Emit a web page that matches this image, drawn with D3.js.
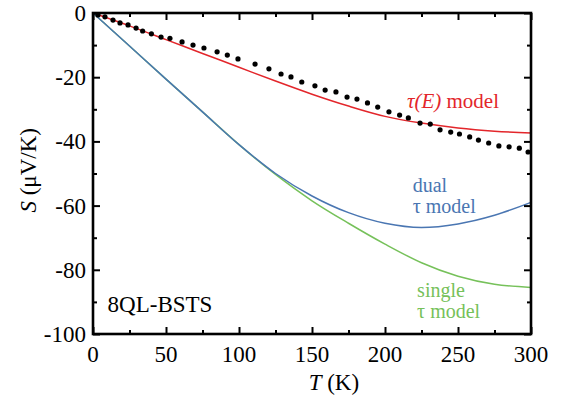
<!DOCTYPE html>
<html>
<head>
<meta charset="utf-8">
<script src="https://cdn.jsdelivr.net/npm/d3@7"></script>
</head>
<body style="margin:0">
<svg id="chart" width="564" height="396"></svg>
<script>
// measured points (black dots)
let measT = [3.4, 8.2, 13.7, 18.5, 24, 29.5, 34, 40, 46.6, 52.7, 61, 68.5, 76, 85, 92, 99.3,
    111, 120.5, 128.8, 135.6, 143, 152, 159, 166.4, 174, 180.8, 188,
    195, 202.7, 210, 216, 224, 231, 237.7, 245, 251, 258, 264, 271, 278, 285, 292, 298];
let measS = [-0.6, -1.2, -2.2, -3.1, -3.7, -4.7, -5.6, -6.5, -7.5, -7.9, -9.0, -10, -10.9, -12.1, -13.1, -14.3,
    -15.9, -17.4, -19, -19.9, -21.5, -22.7, -24, -24.6, -26.2, -26.8, -28,
    -29.3, -30.8, -31.8, -32.7, -34.3, -34.6, -36.4, -37.1, -37.7, -38.6, -39.6, -40.5, -41.4, -41.7, -42.1, -43.3];

// model curves
let modelT = [0, 25, 50, 75, 100, 125, 150, 175, 200, 225, 250, 275, 300];
let tauE = [0, -4, -8.3, -12.6, -16.9, -21.2, -25.3, -29, -32.2, -34.3, -35.8, -36.8, -37.4];
let dualTau = [0, -10.3, -20.6, -30.8, -41, -50, -57, -62.2, -65.5, -66.8, -65.7, -63, -59];
let singleTau = [0, -10.3, -20.6, -30.8, -41, -50.3, -58.5, -65.5, -72, -77.8, -82, -84.5, -85.5];

let xTicks = [0, 50, 100, 150, 200, 250, 300];
let yTicks = [0, -20, -40, -60, -80, -100];

let margin = { top: 13, right: 33, bottom: 62, left: 93 },
    width = 564 - margin.left - margin.right,
    height = 396 - margin.top - margin.bottom;

let svg = d3.select("#chart");
let g = svg.append("g").attr("transform", "translate(" + margin.left + "," + margin.top + ")");

// scales in page pixels so texts can sit straight on the svg
let x = d3.scaleLinear().domain([0, 300]).range([margin.left, margin.left + width]);
let y = d3.scaleLinear().domain([-100, 0]).range([margin.top + height, margin.top]);
let xIn = d3.scaleLinear().domain([0, 300]).range([0, width]);
let yIn = d3.scaleLinear().domain([-100, 0]).range([height, 0]);

let red = "#e3262b", blue = "#4a76b2", green = "#76c15a";

// curves
let series = [
    { vals: tauE, color: red },
    { vals: singleTau, color: green },
    { vals: dualTau, color: blue }
];
let line = d3.line().x((d, i) => xIn(modelT[i])).y(d => yIn(d)).curve(d3.curveMonotoneX);
series.forEach(s => {
    g.append("path")
        .attr("d", line(s.vals))
        .attr("fill", "none")
        .attr("stroke", s.color)
        .attr("stroke-width", 1.5);
});

// dots
g.selectAll("circle.meas")
    .data(measT)
    .enter()
    .append("circle")
    .attr("class", "meas")
    .attr("cx", d => xIn(d))
    .attr("cy", (d, i) => yIn(measS[i]))
    .attr("r", 2.6)
    .attr("fill", "#000");

// axes with inward ticks
function tickAxis(axis, scale, major, minor, tr) {
    let a1 = g.append("g").attr("transform", tr).call(axis(scale).tickValues(major).tickSize(-7).tickFormat(""));
    let a2 = g.append("g").attr("transform", tr).call(axis(scale).tickValues(minor).tickSize(-4).tickFormat(""));
    [a1, a2].forEach(a => {
        a.select(".domain").remove();
        a.selectAll("line").attr("stroke", "#000").attr("stroke-width", 2);
    });
}
let xMinor = [25, 75, 125, 175, 225, 275];
let yMinor = [-10, -30, -50, -70, -90];
tickAxis(d3.axisBottom, xIn, xTicks, xMinor, "translate(0," + height + ")");
tickAxis(d3.axisTop, xIn, xTicks, xMinor, "translate(0,0)");
tickAxis(d3.axisLeft, yIn, yTicks, yMinor, "translate(0,0)");
tickAxis(d3.axisRight, yIn, yTicks, yMinor, "translate(" + width + ",0)");

g.append("rect")
    .attr("width", width).attr("height", height)
    .attr("fill", "none").attr("stroke", "#000").attr("stroke-width", 2.6);

// texts, appended on the svg root
function txt(size) {
    return svg.append("text")
        .style("font-family", "'Times New Roman'")
        .attr("font-size", size);
}

// tick labels
svg.selectAll("text.xl").data(xTicks).enter().append("text")
    .attr("class", "xl")
    .attr("x", d => x(d)).attr("y", margin.top + height + 28)
    .attr("font-size", 23).attr("text-anchor", "middle")
    .style("font-family", d => "'Times New Roman'")
    .text(d => d);
svg.selectAll("text.yl").data(yTicks).enter().append("text")
    .attr("class", "yl")
    .attr("x", margin.left - 7).attr("y", d => y(d) + 8)
    .attr("font-size", 23).attr("text-anchor", "end")
    .style("font-family", d => "'Times New Roman'")
    .text(d => d);

// axis titles
let xt = txt(23).attr("x", x(165)).attr("y", margin.top + height + 56).attr("text-anchor", "middle");
xt.append("tspan").style("font-style", "italic").text("T");
xt.append("tspan").text(" (K)");

let yt = txt(23)
    .attr("transform", "translate(" + (margin.left - 57) + "," + y(-49) + ") rotate(-90)")
    .attr("text-anchor", "middle");
yt.append("tspan").style("font-style", "italic").text("S");
yt.append("tspan").text(" (μV/K)");

// annotations
function label(tx, sy, color, size) {
    return txt(size).attr("x", x(tx)).attr("y", y(sy)).attr("fill", color);
}
let t1 = label(215, -29.5, red, 21);
t1.append("tspan").style("font-style", "italic").text("τ(E)");
t1.append("tspan").text(" model");

label(219, -55.8, blue, 20).text("dual");
label(219, -62.2, blue, 20).text("τ model");

label(222, -88.6, green, 20).text("single");
label(222, -95, green, 20).text("τ model");

label(10, -93.3, "#000", 23).text("8QL-BSTS");
</script>
</body>
</html>
